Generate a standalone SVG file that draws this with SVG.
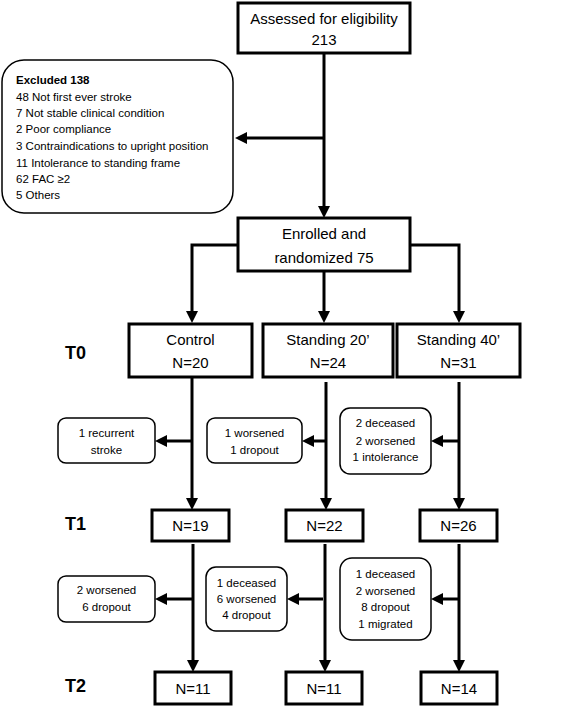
<svg xmlns="http://www.w3.org/2000/svg" width="567" height="706" viewBox="0 0 567 706">
<style>
text{font-family:"Liberation Sans",Arial,sans-serif;fill:#000;text-anchor:middle}
.main{fill:#fff;stroke:#000;stroke-width:3}
.side{fill:#fff;stroke:#000;stroke-width:1.5}
.big{font-size:15px}
.sm{font-size:11.5px}
.lab{font-size:18px;font-weight:bold;text-anchor:start}
.ex{font-size:11.5px;text-anchor:start}
.con{fill:none;stroke:#000;stroke-width:3}
</style>
<defs>
<marker id="ah" markerUnits="userSpaceOnUse" markerWidth="12" markerHeight="12" refX="1" refY="6" orient="auto">
<path d="M0,0 L12,6 L0,12 z" fill="#000"/>
</marker>
</defs>
<rect width="567" height="706" fill="#fff"/>
<g id="connectors">
<path class="con" d="M324,53 V207" marker-end="url(#ah)"/>
<path class="con" d="M324,138 H246" marker-end="url(#ah)"/>
<path class="con" d="M238,245 H192 V312" marker-end="url(#ah)"/>
<path class="con" d="M410,245 H459 V312" marker-end="url(#ah)"/>
<path class="con" d="M324,271 V312" marker-end="url(#ah)"/>
<path class="con" d="M192,377 V499" marker-end="url(#ah)"/>
<path class="con" d="M326,382 V499" marker-end="url(#ah)"/>
<path class="con" d="M459,382 V499" marker-end="url(#ah)"/>
<path class="con" d="M192,441 H166" marker-end="url(#ah)"/>
<path class="con" d="M326,441 H313" marker-end="url(#ah)"/>
<path class="con" d="M459,441 H442" marker-end="url(#ah)"/>
<path class="con" d="M193,544 V661" marker-end="url(#ah)"/>
<path class="con" d="M325,544 V661" marker-end="url(#ah)"/>
<path class="con" d="M459,544 V661" marker-end="url(#ah)"/>
<path class="con" d="M193,599 H166" marker-end="url(#ah)"/>
<path class="con" d="M323,599 H298" marker-end="url(#ah)"/>
<path class="con" d="M459,599 H442" marker-end="url(#ah)"/>
</g>
<g id="assessed">
<rect class="main" x="238" y="3" width="172" height="50"/>
<text class="big" x="324" y="24">Assessed for eligibility</text>
<text class="big" x="324" y="45">213</text>
</g>
<g id="excluded">
<rect class="side" x="2" y="60" width="231" height="153" rx="22"/>
<text class="ex" x="16" y="84" font-weight="bold">Excluded 138</text>
<text class="ex" x="16" y="101">48 Not first ever stroke</text>
<text class="ex" x="16" y="117">7 Not stable clinical condition</text>
<text class="ex" x="16" y="133">2 Poor compliance</text>
<text class="ex" x="16" y="150">3 Contraindications to upright position</text>
<text class="ex" x="16" y="167">11 Intolerance to standing frame</text>
<text class="ex" x="16" y="183">62 FAC ≥2</text>
<text class="ex" x="16" y="199">5 Others</text>
</g>
<g id="enrolled">
<rect class="main" x="238" y="218" width="172" height="53"/>
<text class="big" x="324" y="239">Enrolled and</text>
<text class="big" x="324" y="263">randomized 75</text>
</g>
<g id="labels">
<text class="lab" x="65" y="359">T0</text>
<text class="lab" x="65" y="530">T1</text>
<text class="lab" x="65" y="692">T2</text>
</g>
<g id="control-t0">
<rect class="main" x="129" y="324" width="123" height="53"/>
<text class="big" x="190.5" y="345">Control</text>
<text class="big" x="190.5" y="368">N=20</text>
</g>
<g id="standing20-t0">
<rect class="main" x="263" y="324" width="130" height="53"/>
<text class="big" x="328" y="345">Standing 20’</text>
<text class="big" x="328" y="368">N=24</text>
</g>
<g id="standing40-t0">
<rect class="main" x="397" y="324" width="123" height="53"/>
<text class="big" x="458.5" y="345">Standing 40’</text>
<text class="big" x="458.5" y="368">N=31</text>
</g>
<g id="loss-control-1">
<rect class="side" x="58" y="418" width="97" height="45" rx="8"/>
<text class="sm" x="106.5" y="437">1 recurrent</text>
<text class="sm" x="106.5" y="454">stroke</text>
</g>
<g id="loss-s20-1">
<rect class="side" x="207" y="418" width="95" height="45" rx="8"/>
<text class="sm" x="254.5" y="437">1 worsened</text>
<text class="sm" x="254.5" y="454">1 dropout</text>
</g>
<g id="loss-s40-1">
<rect class="side" x="340" y="408" width="91" height="66" rx="10"/>
<text class="sm" x="385.5" y="427">2 deceased</text>
<text class="sm" x="385.5" y="445">2 worsened</text>
<text class="sm" x="385.5" y="461">1 intolerance</text>
</g>
<g id="control-t1">
<rect class="main" x="152" y="510" width="77" height="31"/>
<text class="big" x="190.5" y="531">N=19</text>
</g>
<g id="s20-t1">
<rect class="main" x="286" y="510" width="77" height="31"/>
<text class="big" x="324.5" y="531">N=22</text>
</g>
<g id="s40-t1">
<rect class="main" x="420" y="510" width="77" height="31"/>
<text class="big" x="458.5" y="531">N=26</text>
</g>
<g id="loss-control-2">
<rect class="side" x="58" y="576" width="97" height="46" rx="8"/>
<text class="sm" x="106.5" y="594">2 worsened</text>
<text class="sm" x="106.5" y="611">6 dropout</text>
</g>
<g id="loss-s20-2">
<rect class="side" x="206" y="567" width="81" height="64" rx="10"/>
<text class="sm" x="246.5" y="587">1 deceased</text>
<text class="sm" x="246.5" y="603">6 worsened</text>
<text class="sm" x="246.5" y="619">4 dropout</text>
</g>
<g id="loss-s40-2">
<rect class="side" x="340" y="558" width="91" height="82" rx="12"/>
<text class="sm" x="385.5" y="578">1 deceased</text>
<text class="sm" x="385.5" y="595">2 worsened</text>
<text class="sm" x="385.5" y="611">8 dropout</text>
<text class="sm" x="385.5" y="628">1 migrated</text>
</g>
<g id="control-t2">
<rect class="main" x="155" y="672" width="76" height="32"/>
<text class="big" x="193" y="694">N=11</text>
</g>
<g id="s20-t2">
<rect class="main" x="286" y="672" width="76" height="32"/>
<text class="big" x="324" y="694">N=11</text>
</g>
<g id="s40-t2">
<rect class="main" x="421" y="672" width="76" height="32"/>
<text class="big" x="459" y="694">N=14</text>
</g>
</svg>
